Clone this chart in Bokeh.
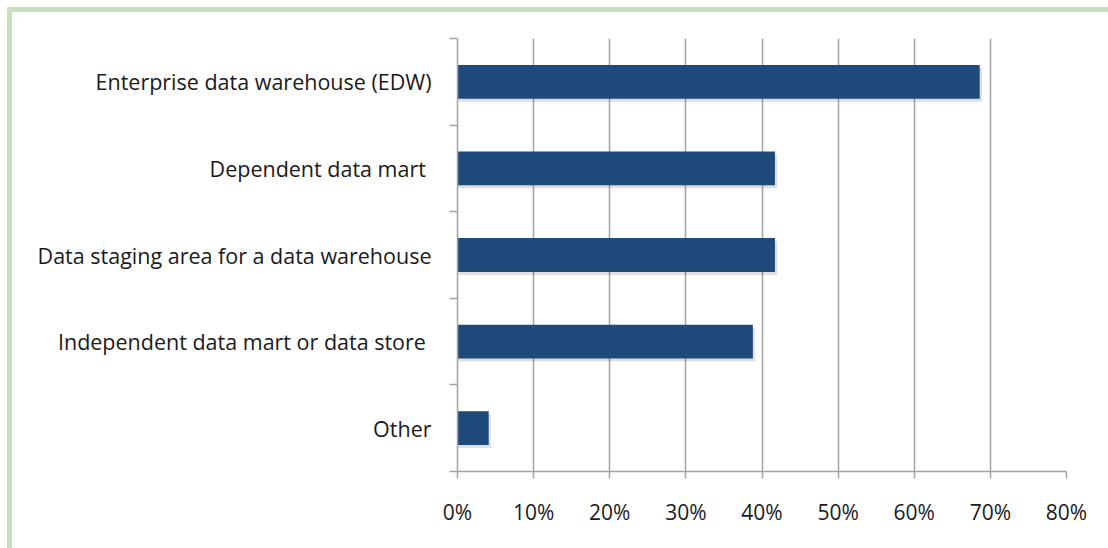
from bokeh.plotting import figure
from bokeh.models import Range1d, FixedTicker, LinearAxis, NumeralTickFormatter, ColumnDataSource
from bokeh.embed import file_html
from bokeh.resources import INLINE

categories = [
    "Enterprise data warehouse (EDW)",
    "Dependent data mart ",
    "Data staging area for a data warehouse",
    "Independent data mart or data store ",
    "Other",
]
values = [0.686, 0.417, 0.417, 0.388, 0.041]
x_ticks = [0.0, 0.1, 0.2, 0.3, 0.4, 0.5, 0.6, 0.7, 0.8]

n = len(categories)
ypos = [n - i - 0.5 for i in range(n)]
src = ColumnDataSource(dict(y=ypos, v=values, cat=categories))
shadow = ColumnDataSource(dict(y=[y - 0.035 for y in ypos], v=[v + 0.003 for v in values]))

FONT = "Open Sans"
GRAY = "#a3a3a3"

p = figure(width=1108, height=548, x_range=Range1d(0, 0.8), y_range=Range1d(0, n),
           output_backend="svg", toolbar_location=None,
           min_border_left=457, min_border_right=42, min_border_top=38, min_border_bottom=77)
p.border_fill_color = None
p.background_fill_color = "white"
p.outline_line_color = None
p.styles = {
    "background": "linear-gradient(#c6e0bf,#c6e0bf) 7px 7px / 1101px 5px no-repeat, "
                  "linear-gradient(#c6e0bf,#c6e0bf) 7px 7px / 5px 541px no-repeat, white"
}

p.hbar(y="y", right="v", left=0, height=0.39, source=shadow, fill_color="#000000",
       fill_alpha=0.12, line_color=None)
p.hbar(y="y", right="v", left=0, height=0.39, source=src, fill_color="#1f4a7c", line_color=None)

p.xaxis.ticker = FixedTicker(ticks=x_ticks)
p.xaxis.formatter = NumeralTickFormatter(format="0%")
p.xaxis.axis_line_color = GRAY
p.xaxis.axis_line_width = 1.5
p.xaxis.major_tick_line_color = GRAY
p.xaxis.major_tick_line_width = 1.5
p.xaxis.major_tick_in = 0
p.xaxis.major_tick_out = 7
p.xaxis.minor_tick_line_color = None
p.xaxis.major_label_standoff = 19
p.xaxis.major_label_text_font = FONT
p.xaxis.major_label_text_font_size = "21px"
p.xaxis.major_label_text_color = "#1a1a1a"

p.xgrid.ticker = FixedTicker(ticks=x_ticks)
p.xgrid.grid_line_color = GRAY
p.xgrid.grid_line_width = 1.5
p.ygrid.visible = False

p.yaxis.ticker = FixedTicker(ticks=list(range(n + 1)))
p.yaxis.major_label_overrides = {i: "" for i in range(n + 1)}
p.yaxis.axis_line_color = GRAY
p.yaxis.axis_line_width = 1.5
p.yaxis.major_tick_line_color = GRAY
p.yaxis.major_tick_line_width = 1.5
p.yaxis.major_tick_in = 0
p.yaxis.major_tick_out = 8
p.yaxis.minor_tick_line_color = None
p.yaxis.major_label_standoff = 0

lab = LinearAxis(ticker=FixedTicker(ticks=ypos),
                 major_label_overrides={y: c for y, c in zip(ypos, categories)},
                 axis_line_color=None, major_tick_line_color=None, minor_tick_line_color=None,
                 major_label_standoff=12, major_label_text_font=FONT,
                 major_label_text_font_size="21.5px", major_label_text_color="#1a1a1a")
p.add_layout(lab, "left")

open("out.html", "w").write(file_html(p, INLINE))
